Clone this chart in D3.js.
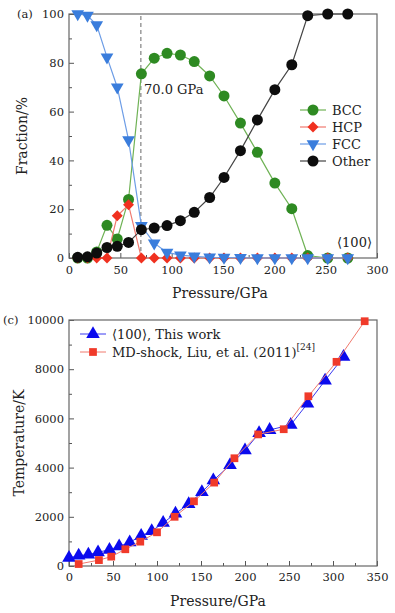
<!DOCTYPE html>
<html>
<head>
<meta charset="utf-8">
<script src="https://cdn.jsdelivr.net/npm/d3@7"></script>
<style>
  body { margin: 0; background: #fff; }
  svg { display: block; font-family: "DejaVu Serif", serif; }
  .tick text { fill: #222; font-size: 11.5px; font-family: "DejaVu Serif", serif; }
  .tick line { stroke: #555; }
  .br { font-family: "DejaVu Sans", "Noto Sans", sans-serif; }
</style>
</head>
<body>
<svg id="chart" width="395" height="613"></svg>
<script>
// (a) phase fractions vs pressure
const pressureA = [8.5, 18, 27, 37, 47, 58, 70.5, 83, 95.5, 108.5, 122, 137, 151, 167, 183.5, 200.5, 217, 232.5, 252, 271.5];
const bcc   = [0, 0, 2.5, 13.4, 7.8, 24, 75.5, 81.9, 83.9, 83.2, 80.5, 74.6, 66.4, 55.3, 43.3, 30.7, 20.2, 1, 0, 0];
const hcp   = [0, 0, 0, 0, 17.3, 21.8, 0, 0, 0, 0, 0, 0, 0, 0, 0, 0, 0, 0, 0, 0];
const fcc   = [100, 99.4, 95.5, 82.3, 70, 48.4, 13.2, 6.1, 2.3, 1.2, 0.7, 0.3, 0.2, 0.1, 0, 0, 0, 0, 0, 0];
const other = [0.3, 0.5, 2.0, 4.3, 4.8, 6.4, 11.6, 12.3, 13.3, 15.3, 18.7, 24.8, 33, 44, 56.6, 69, 79.2, 99.3, 100, 100];
const transitionP = 70.0;
const phaseNames = ["BCC", "HCP", "FCC", "Other"];
const ticksA_x = [0, 50, 100, 150, 200, 250, 300];
const ticksA_y = [0, 20, 40, 60, 80, 100];

// (c) shock temperature vs pressure
const thisWorkP = [0, 11, 22, 33, 46, 57, 69, 82, 94, 107, 121, 136, 151, 164, 183, 200, 216, 228, 252, 271, 291, 312];
const thisWorkT = [330, 420, 460, 560, 660, 800, 960, 1230, 1420, 1750, 2130, 2520, 3000, 3480, 4100, 4700, 5400, 5530, 5740, 6600, 7540, 8500];
const mdP = [11, 34, 48, 64, 81, 100, 120, 142, 165, 188, 215, 244, 272, 304, 336];
const mdT = [80, 240, 380, 680, 990, 1370, 2000, 2630, 3390, 4380, 5350, 5560, 6900, 8300, 9950];
const ticksC_x = [0, 50, 100, 150, 200, 250, 300, 350];
const ticksC_y = [0, 2000, 4000, 6000, 8000, 10000];

const svg = d3.select("#chart");

// draws left/bottom axes with inward ticks plus a grey frame
function drawFrame(x, y, xTicks, yTicks, xMinor, yMinor, padX) {
  const [x0, x1] = x.range();
  const [y0, y1] = y.range();
  const g = svg.append("g");

  g.append("g")
    .attr("transform", `translate(0,${y0})`)
    .call(d3.axisBottom(x).tickValues(xMinor).tickSize(-3).tickFormat(""))
    .call((s) => s.select(".domain").remove());
  g.append("g")
    .attr("transform", `translate(${x0},0)`)
    .call(d3.axisLeft(y).tickValues(yMinor).tickSize(-3).tickFormat(""))
    .call((s) => s.select(".domain").remove());

  g.append("g")
    .attr("transform", `translate(0,${y0})`)
    .call(d3.axisBottom(x).tickValues(xTicks).tickSize(-5).tickPadding(padX).tickFormat(d3.format("d")))
    .call((s) => s.select(".domain").remove());
  g.append("g")
    .attr("transform", `translate(${x0},0)`)
    .call(d3.axisLeft(y).tickValues(yTicks).tickSize(-5).tickPadding(5).tickFormat(d3.format("d")))
    .call((s) => s.select(".domain").remove());

  g.append("rect")
    .attr("x", x0)
    .attr("y", y1)
    .attr("width", x1 - x0)
    .attr("height", y0 - y1)
    .attr("fill", "none")
    .attr("stroke", "#666")
    .attr("stroke-width", 1.2);
}

function axisTitles(cx, cy, xLabel, tx, ty, yLabel) {
  svg.append("text")
    .attr("x", cx).attr("y", cy)
    .attr("text-anchor", "middle")
    .attr("dominant-baseline", "central")
    .attr("font-size", 14)
    .attr("fill", "#222")
    .text(xLabel);
  svg.append("text")
    .attr("transform", `translate(${tx},${ty}) rotate(-90)`)
    .attr("text-anchor", "middle")
    .attr("dominant-baseline", "central")
    .attr("font-size", 14)
    .attr("fill", "#222")
    .text(yLabel);
}

// write "<100>" with proper angle brackets from a font that has them
function angle(text, inner) {
  text.append("tspan").attr("class", "br").text("\u27E8");
  text.append("tspan").text(inner);
  text.append("tspan").attr("class", "br").text("\u27E9");
  return text;
}

function drawSeries(g, x, y, xs, ys, style) {
  const pts = xs.map((p, i) => [p, ys[i]]);
  g.append("path")
    .datum(pts)
    .attr("fill", "none")
    .attr("stroke", style.line)
    .attr("stroke-width", style.width || 1.2)
    .attr("d", d3.line().x((d) => x(d[0])).y((d) => y(d[1])));
  g.selectAll(null)
    .data(pts)
    .enter()
    .append("path")
    .attr("transform", (d) => `translate(${x(d[0])},${y(d[1])})${style.rotate ? " rotate(" + style.rotate + ")" : ""}`)
    .attr("d", d3.symbol().type(style.symbol).size(style.size))
    .attr("fill", style.fill);
}

function legendRow(lx, ly, style) {
  const g = svg.append("g");
  g.append("line")
    .attr("x1", lx).attr("x2", lx + 26)
    .attr("y1", ly).attr("y2", ly)
    .attr("stroke", style.line)
    .attr("stroke-width", style.width || 1.2);
  g.append("path")
    .attr("transform", `translate(${lx + 13},${ly})${style.rotate ? " rotate(" + style.rotate + ")" : ""}`)
    .attr("d", d3.symbol().type(style.symbol).size(style.size))
    .attr("fill", style.fill);
  return g.append("text")
    .attr("x", lx + 32).attr("y", ly)
    .attr("dominant-baseline", "central")
    .attr("font-size", 13)
    .attr("fill", "#222");
}

// ---------- panel (a) ----------
const xA = d3.scaleLinear().domain([0, 300]).range([69, 377]);
const yA = d3.scaleLinear().domain([0, 100]).range([258, 14]);

drawFrame(xA, yA, ticksA_x, ticksA_y, d3.range(25, 300, 50), d3.range(10, 100, 20), 8);

svg.append("line")
  .attr("x1", xA(transitionP)).attr("x2", xA(transitionP))
  .attr("y1", yA(0)).attr("y2", yA(100))
  .attr("stroke", "#777")
  .attr("stroke-width", 1.1)
  .attr("stroke-dasharray", "4,3");

const phaseStyles = [
  { line: "#6fb255", fill: "#2e8a22", symbol: d3.symbolCircle, size: 95 },
  { line: "#f07a70", fill: "#f0301f", symbol: d3.symbolSquare, size: 60, rotate: 45 },
  { line: "#6d9de6", fill: "#3a7ddc", symbol: d3.symbolTriangle, size: 70, rotate: 180 },
  { line: "#444", fill: "#0d0d0d", symbol: d3.symbolCircle, size: 95 },
];
const phaseData = [bcc, hcp, fcc, other];

const gA = svg.append("g");
phaseData.forEach((vals, i) => drawSeries(gA, xA, yA, pressureA, vals, phaseStyles[i]));

svg.append("text")
  .attr("x", 144).attr("y", 89)
  .attr("dominant-baseline", "central")
  .attr("font-size", 13)
  .attr("fill", "#222")
  .text(transitionP.toFixed(1) + " GPa");

angle(svg.append("text")
  .attr("x", 372).attr("y", 242)
  .attr("text-anchor", "end")
  .attr("dominant-baseline", "central")
  .attr("font-size", 13)
  .attr("fill", "#222"), "100");

phaseNames.forEach((name, i) => legendRow(300, 110 + i * 17, phaseStyles[i]).text(name));

svg.append("text")
  .attr("x", 17).attr("y", yA(100))
  .attr("dominant-baseline", "central")
  .attr("font-size", 11.5)
  .attr("fill", "#222")
  .text("(a)");

axisTitles(220, 293, "Pressure/GPa", 22, 136, "Fraction/%");

// ---------- panel (c) ----------
const xC = d3.scaleLinear().domain([0, 350]).range([69, 377]);
const yC = d3.scaleLinear().domain([0, 10000]).range([566, 320]);

drawFrame(xC, yC, ticksC_x, ticksC_y, d3.range(25, 350, 50), d3.range(1000, 10000, 2000), 7);

const workStyle = { line: "#3a3af0", fill: "#0a0aee", symbol: d3.symbolTriangle, size: 80, width: 1 };
const mdStyle = { line: "#f07a6e", fill: "#f03a2a", symbol: d3.symbolSquare, size: 60, width: 1 };

const gC = svg.append("g");
drawSeries(gC, xC, yC, thisWorkP, thisWorkT, workStyle);
drawSeries(gC, xC, yC, mdP, mdT, mdStyle);

angle(legendRow(80, 334, workStyle), "100")
  .append("tspan").text(", This work");
legendRow(80, 352, mdStyle)
  .text("MD-shock, Liu, et al. (2011)")
  .append("tspan")
  .attr("dy", -5)
  .attr("font-size", 9)
  .text("[24]");

svg.append("text")
  .attr("x", 3).attr("y", yC(10000))
  .attr("dominant-baseline", "central")
  .attr("font-size", 11.5)
  .attr("fill", "#222")
  .text("(c)");

axisTitles(218, 601, "Pressure/GPa", 19, 443, "Temperature/K");
</script>
</body>
</html>
